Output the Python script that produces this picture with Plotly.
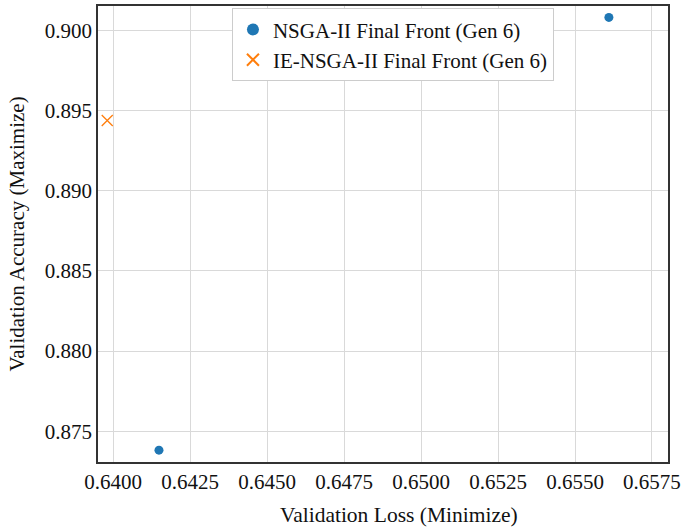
import plotly.graph_objects as go

nsga_loss = [0.64149, 0.65610]
nsga_acc = [0.87382, 0.90081]
ie_loss = [0.63981]
ie_acc = [0.89438]

x_ticks = [0.6400, 0.6425, 0.6450, 0.6475, 0.6500, 0.6525, 0.6550, 0.6575]
x_tick_labels = ["0.6400", "0.6425", "0.6450", "0.6475", "0.6500", "0.6525", "0.6550", "0.6575"]
y_ticks = [0.875, 0.880, 0.885, 0.890, 0.895, 0.900]
y_tick_labels = ["0.875", "0.880", "0.885", "0.890", "0.895", "0.900"]

FONT = "Liberation Serif"

fig = go.Figure()
fig.add_trace(go.Scatter(
    x=nsga_loss, y=nsga_acc, mode="markers",
    name="NSGA-II Final Front (Gen 6)",
    marker=dict(symbol="circle", size=9, color="#1f77b4"),
))
fig.add_trace(go.Scatter(
    x=ie_loss, y=ie_acc, mode="markers",
    name="IE-NSGA-II Final Front (Gen 6)",
    marker=dict(symbol="x-thin", size=11, color="#ff7f0e",
                line=dict(width=1.3, color="#ff7f0e")),
))

fig.update_layout(
    width=700, height=528, autosize=False,
    margin=dict(l=98, r=32, t=4, b=66),
    paper_bgcolor="white", plot_bgcolor="white",
    font=dict(family=FONT, size=21, color="#111"),
    legend=dict(
        x=0.235, y=0.995, xanchor="left", yanchor="top",
        bgcolor="white", bordercolor="#cccccc", borderwidth=1,
        font=dict(family=FONT, size=21, color="#111"),
        itemsizing="constant", tracegroupgap=0, itemwidth=30,
    ),
    showlegend=True,
    annotations=[dict(
        text="Validation Loss (Minimize)", xref="paper", yref="paper",
        x=0.528, y=-0.1156, xanchor="center", yanchor="middle",
        showarrow=False, font=dict(family=FONT, size=21.5, color="#111"),
    )],
)
fig.update_xaxes(
    range=[0.63951, 0.65802],
    tickvals=x_ticks, ticktext=x_tick_labels,
    showgrid=True, gridcolor="#d9d9d9", gridwidth=1,
    showline=True, linecolor="#333", linewidth=1.5, mirror=True,
    ticks="", zeroline=False,
    tickfont=dict(family=FONT, size=21, color="#111"),
)
fig.update_yaxes(
    range=[0.87308, 0.90152],
    tickvals=y_ticks, ticktext=y_tick_labels,
    showgrid=True, gridcolor="#d9d9d9", gridwidth=1,
    showline=True, linecolor="#333", linewidth=1.5, mirror=True,
    ticks="", zeroline=False,
    tickfont=dict(family=FONT, size=21, color="#111"),
    title=dict(text="Validation Accuracy (Maximize)", font=dict(family=FONT, size=21, color="#111"), standoff=14),
)

fig.write_html("out.html", config={"displayModeBar": False},
               post_script="document.body.style.margin='0';")
